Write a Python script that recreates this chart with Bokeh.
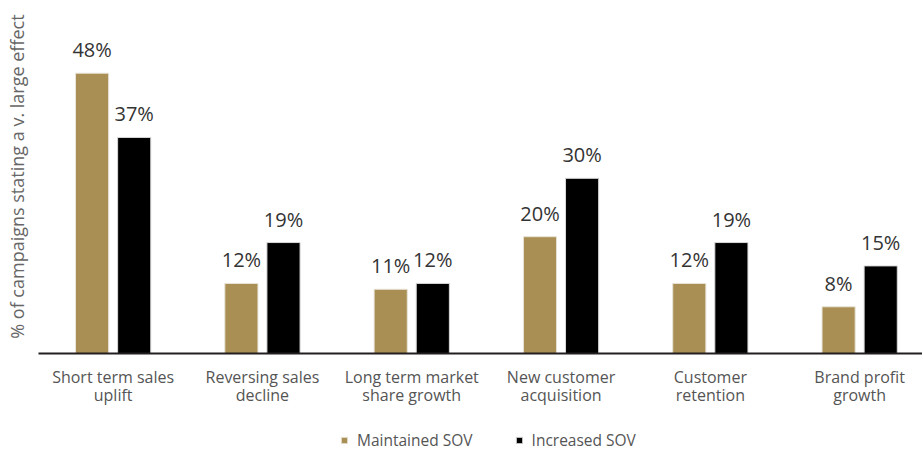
import math
from bokeh.plotting import figure
from bokeh.models import Range1d, Legend, LegendItem, ColumnDataSource
from bokeh.core.properties import value
from bokeh.embed import file_html
from bokeh.resources import INLINE

categories = ["Short term sales\nuplift", "Reversing sales\ndecline", "Long term market\nshare growth",
              "New customer\nacquisition", "Customer\nretention", "Brand profit\ngrowth"]
maintained = [48, 12, 11, 20, 12, 8]
increased = [37, 19, 12, 30, 19, 15]
series_names = ["Maintained SOV", "Increased SOV"]
y_title = "% of campaigns stating a v. large effect"

GOLD = "#A98F54"
FONT = "Open Sans"

xs = [i + 0.5 for i in range(len(categories))]
off = 0.141
bw = 0.222

p = figure(width=922, height=451, output_backend="svg", toolbar_location=None,
           x_range=Range1d(-0.2545, 5.921), y_range=Range1d(-16.78, 60.45),
           min_border_left=0, min_border_right=0, min_border_top=0, min_border_bottom=0)
p.outline_line_color = None
p.grid.visible = False
p.xaxis.visible = False
p.yaxis.visible = False

src_m = ColumnDataSource(dict(x=[x - off for x in xs], top=maintained,
                              lab=[f"{v}%" for v in maintained]))
src_i = ColumnDataSource(dict(x=[x + off for x in xs], top=increased,
                              lab=[f"{v}%" for v in increased]))
src_c = ColumnDataSource(dict(x=xs, y=[0] * len(xs), lab=categories))

r1 = p.vbar(x="x", top="top", width=bw, bottom=0, source=src_m, fill_color=GOLD,
            line_color="#e9e4d8", line_width=1)
r2 = p.vbar(x="x", top="top", width=bw, bottom=0, source=src_i, fill_color="black",
            line_color="#d9d9d9", line_width=1)

for s in (src_m, src_i):
    p.text(x="x", y="top", text="lab", source=s, text_align="center", text_baseline="bottom",
           y_offset=-10, text_font=value(FONT), text_font_size="20px", text_color="#333333")

p.text(x="x", y="y", text="lab", source=src_c, text_align="center", text_baseline="top",
       y_offset=12, text_font=value(FONT), text_font_size="16px", text_color="#555555",
       text_line_height=0.85)

# baseline (x axis line) starting at the plot origin
p.ray(x=[0], y=[0], angle=0, length=0, line_color="#231f20", line_width=2)

p.text(x=[-0.147], y=[30.3], text=[y_title], angle=math.pi / 2, text_align="center",
       text_baseline="middle", text_font=value(FONT), text_font_size="18px",
       text_color="#666666")

legend = Legend(items=[LegendItem(label=series_names[0], renderers=[r1]),
                       LegendItem(label=series_names[1], renderers=[r2])],
                orientation="horizontal", location=(340, 0),
                label_text_font=FONT, label_text_font_size="15.5px", label_text_color="#555555",
                glyph_width=8, glyph_height=8, label_standoff=9, spacing=42,
                label_height=20, border_line_color=None, background_fill_alpha=0,
                padding=0, margin=0)
p.add_layout(legend)

open("out.html", "w").write(file_html(p, INLINE))
